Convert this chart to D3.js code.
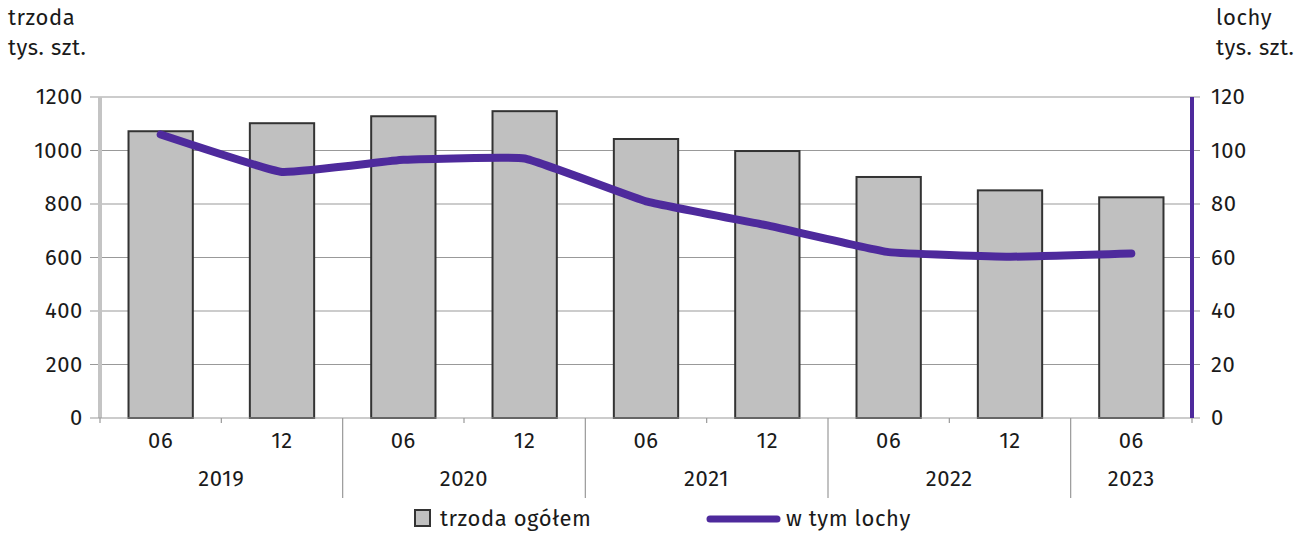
<!DOCTYPE html>
<html>
<head>
<meta charset="utf-8">
<script src="https://cdn.jsdelivr.net/npm/d3@7"></script>
<style>
  body { margin: 0; background: #fff; }
  text { font-family: "Fira Sans", "Open Sans", "Noto Sans", sans-serif; fill: #1a1a1a; font-size: 22px; letter-spacing: 0.6px; }
</style>
</head>
<body>
<script>
// data
var months = ["06", "12", "06", "12", "06", "12", "06", "12", "06"];
var years = ["2019", "2019", "2020", "2020", "2021", "2021", "2022", "2022", "2023"];
var trzoda = [1072, 1102, 1128, 1147, 1043, 998, 901, 851, 825];
var lochy = [106, 92, 96.5, 97, 81, 72, 62, 60.3, 61.5];
var leftTicks = [0, 200, 400, 600, 800, 1000, 1200];
var rightTicks = [0, 20, 40, 60, 80, 100, 120];

var width = 1296, height = 533;
var plotL = 100, plotR = 1192, plotT = 97, plotB = 418;
var purple = "#4e2a9c";

var svg = d3.select("body").append("svg").attr("width", width).attr("height", height);

var x = d3.scaleBand().domain(d3.range(months.length)).range([plotL, plotR]).paddingInner(0.47).paddingOuter(0.235);
var yL = d3.scaleLinear().domain([0, 1200]).range([plotB, plotT]);
var yR = d3.scaleLinear().domain([0, 120]).range([plotB, plotT]);

// gridlines
svg.append("g").selectAll("line").data(leftTicks.slice(1)).enter().append("line")
  .attr("x1", plotL - 10).attr("x2", plotR + 8)
  .attr("y1", d => yL(d)).attr("y2", d => yL(d))
  .attr("stroke", "#999").attr("stroke-width", 1.2);

// left tick labels
svg.append("g").selectAll("text").data(leftTicks).enter().append("text")
  .attr("x", plotL - 17).attr("y", d => yL(d) + 7)
  .attr("text-anchor", "end")
  .text(d => d);

// right tick labels
svg.append("g").selectAll("text").data(rightTicks).enter().append("text")
  .attr("x", plotR + 19).attr("y", d => yR(d) + 7)
  .attr("text-anchor", "start")
  .text(d => d);

// bars
svg.append("g").selectAll("rect").data(trzoda).enter().append("rect")
  .attr("x", (d, i) => x(i)).attr("width", x.bandwidth())
  .attr("y", d => yL(d)).attr("height", d => plotB - yL(d))
  .attr("fill", "#c0c0c0").attr("stroke", "#333").attr("stroke-width", 2);

// left axis bar
svg.append("line").attr("x1", plotL).attr("x2", plotL).attr("y1", plotT).attr("y2", plotB)
  .attr("stroke", "#c4c4c4").attr("stroke-width", 4);

// x axis baseline
svg.append("line").attr("x1", plotL - 10).attr("x2", plotR + 8).attr("y1", plotB).attr("y2", plotB)
  .attr("stroke", "#999").attr("stroke-width", 1.2);

// right axis bar
svg.append("line").attr("x1", plotR).attr("x2", plotR).attr("y1", plotT).attr("y2", plotB)
  .attr("stroke", purple).attr("stroke-width", 4);

// category ticks and year separators
var step = x.step();
var bounds = d3.range(months.length + 1).map(i => plotL + i * step);
svg.append("g").selectAll("line").data(bounds).enter().append("line")
  .attr("x1", d => d).attr("x2", d => d)
  .attr("y1", plotB)
  .attr("y2", (d, i) => (i > 0 && i < months.length && years[i] != years[i - 1]) ? 498 : plotB + 5)
  .attr("stroke", "#999").attr("stroke-width", 1.2);

// month labels
svg.append("g").selectAll("text").data(months).enter().append("text")
  .attr("x", (d, i) => x(i) + x.bandwidth() / 2).attr("y", 448)
  .attr("text-anchor", "middle")
  .text(d => d);

// year labels
var yearGroups = d3.groups(years.map((y, i) => ({y: y, i: i})), d => d.y);
svg.append("g").selectAll("text").data(yearGroups).enter().append("text")
  .attr("x", d => {
    var a = d[1][0].i, b = d[1][d[1].length - 1].i;
    return (x(a) + x(b) + x.bandwidth()) / 2;
  })
  .attr("y", 486).attr("text-anchor", "middle")
  .text(d => d[0]);

// line
var line = d3.line()
  .x((d, i) => x(i) + x.bandwidth() / 2)
  .y(d => yR(d))
  .curve(d3.curveCardinal.tension(0.7));
svg.append("path").datum(lochy).attr("d", line)
  .attr("fill", "none").attr("stroke", purple).attr("stroke-width", 8)
  .attr("stroke-linecap", "round").attr("stroke-linejoin", "round");

// axis titles
svg.append("text").attr("x", 8).attr("y", 25).text("trzoda");
svg.append("text").attr("x", 8).attr("y", 55).text("tys. szt.");
svg.append("text").attr("x", 1216).attr("y", 25).text("lochy");
svg.append("text").attr("x", 1216).attr("y", 55).text("tys. szt.");

// legend
svg.append("rect").attr("x", 415).attr("y", 510).attr("width", 15).attr("height", 16)
  .attr("fill", "#c0c0c0").attr("stroke", "#333").attr("stroke-width", 2);
svg.append("text").attr("x", 440).attr("y", 526).text("trzoda ogółem");
svg.append("line").attr("x1", 710).attr("x2", 777).attr("y1", 519).attr("y2", 519)
  .attr("stroke", purple).attr("stroke-width", 7).attr("stroke-linecap", "round");
svg.append("text").attr("x", 786).attr("y", 526).text("w tym lochy");
</script>
</body>
</html>
